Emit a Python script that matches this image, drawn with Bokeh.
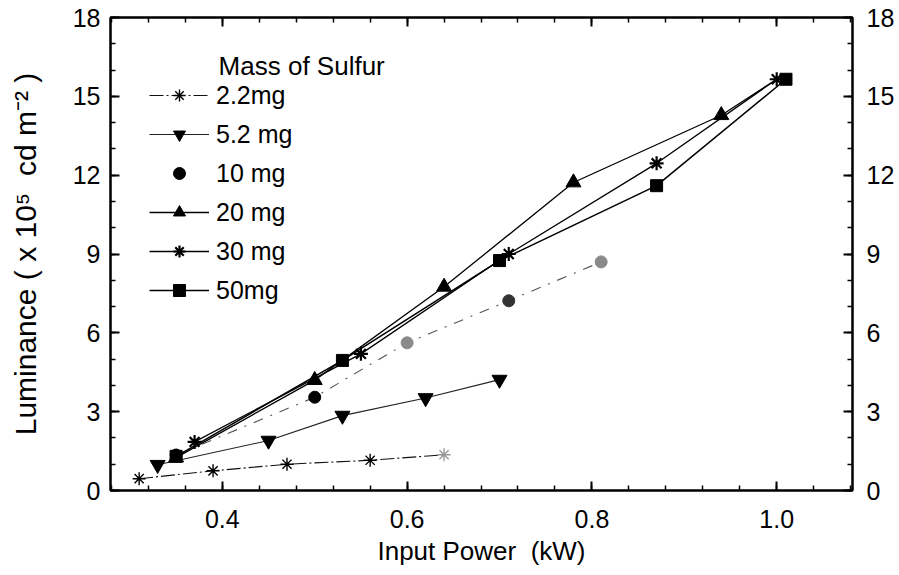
from bokeh.plotting import figure
from bokeh.models import (LinearAxis, SingleIntervalTicker, NumeralTickFormatter,
                          CustomJSTickFormatter, Legend, LegendItem, Label,
                          ColumnDataSource, Range1d)
from bokeh.embed import file_html
from bokeh.resources import INLINE

FONT = "Liberation Sans"

# ---- data ----
x_22 = [0.31, 0.39, 0.47, 0.56, 0.64]
y_22 = [0.45, 0.75, 1.0, 1.15, 1.36]

x_52 = [0.33, 0.45, 0.53, 0.62, 0.70]
y_52 = [0.98, 1.9, 2.85, 3.52, 4.22]

x_10 = [0.35, 0.50, 0.60, 0.71, 0.81]
y_10 = [1.35, 3.55, 5.62, 7.22, 8.7]

x_20 = [0.35, 0.50, 0.64, 0.78, 0.94, 1.0]
y_20 = [1.25, 4.2, 7.75, 11.72, 14.28, 15.65]

x_30 = [0.37, 0.55, 0.71, 0.87, 1.0]
y_30 = [1.85, 5.2, 9.0, 12.45, 15.65]

x_50 = [0.35, 0.53, 0.70, 0.87, 1.01]
y_50 = [1.3, 4.95, 8.75, 11.6, 15.65]

labels = ["2.2mg", "5.2 mg", "10 mg", "20 mg", "30 mg", "50mg"]
legend_title = "Mass of Sulfur"
x_title = "Input Power\u00a0\u00a0(kW)"
y_title = "Luminance ( x 10\u2075\u00a0\u00a0cd m\u207b\u00b2 )"

# per-point marker shading (faded scan points)
c_22 = ["black", "black", "black", "black", "#9a9a9a"]
c_10 = ["black", "black", "#8a8a8a", "#333333", "#8a8a8a"]

p = figure(width=897, height=573, output_backend="svg", toolbar_location=None,
           x_range=Range1d(0.279, 1.082), y_range=Range1d(0, 18),
           min_border_left=110, min_border_right=44, min_border_top=17,
           min_border_bottom=83)
p.xgrid.visible = False
p.ygrid.visible = False
p.outline_line_color = "black"
p.outline_line_width = 2
p.background_fill_color = "white"
p.border_fill_color = "white"


def style_axis(ax):
    ax.axis_line_width = 2
    ax.axis_line_color = "black"
    ax.major_tick_in = 9
    ax.major_tick_out = 0
    ax.minor_tick_in = 5
    ax.minor_tick_out = 0
    ax.major_tick_line_width = 2
    ax.minor_tick_line_width = 1.5
    ax.major_tick_line_color = "black"
    ax.minor_tick_line_color = "black"
    ax.major_label_text_font = FONT
    ax.major_label_text_font_size = "25px"
    ax.major_label_text_color = "black"
    ax.axis_label_text_font = FONT
    ax.axis_label_text_font_style = "normal"
    ax.axis_label_text_color = "black"


xt = SingleIntervalTicker(interval=0.2, num_minor_ticks=5)
yt = SingleIntervalTicker(interval=3, num_minor_ticks=3)

xa = p.xaxis[0]
xa.ticker = xt
xa.formatter = NumeralTickFormatter(format="0.0")
style_axis(xa)
xa.major_label_standoff = 19
xa.axis_label = x_title
xa.axis_label_text_font_size = "26px"
xa.axis_label_standoff = 5

ya = p.yaxis[0]
ya.ticker = yt
style_axis(ya)
ya.major_label_standoff = 10
ya.axis_label = y_title
ya.axis_label_text_font_size = "30px"
ya.axis_label_standoff = 28

top = LinearAxis(ticker=SingleIntervalTicker(interval=0.2, num_minor_ticks=5),
                 formatter=CustomJSTickFormatter(code="return ''"))
style_axis(top)
top.major_label_standoff = 0
p.add_layout(top, "above")

right = LinearAxis(ticker=SingleIntervalTicker(interval=3, num_minor_ticks=3))
style_axis(right)
right.major_label_standoff = 14
p.add_layout(right, "right")

# ---- series ----
s22 = ColumnDataSource(dict(x=x_22, y=y_22, c=c_22))
s10 = ColumnDataSource(dict(x=x_10, y=y_10, c=c_10))

l22 = p.line(x_22, y_22, line_color="#111111", line_width=1.1, line_dash="14 3 2 3")
m22 = p.scatter("x", "y", source=s22, marker="asterisk", size=13,
                line_color="c", line_width=1.4)

l52 = p.line(x_52, y_52, line_color="#222222", line_width=1.1)
m52 = p.scatter(x_52, y_52, marker="inverted_triangle", size=15,
                fill_color="black", line_color="black")

l10 = p.line(x_10, y_10, line_color="#555555", line_width=1.1, line_dash="10 8 2 8")
m10 = p.scatter("x", "y", source=s10, marker="circle", size=12,
                fill_color="c", line_color="c")

l20 = p.line(x_20, y_20, line_color="black", line_width=1.3)
m20 = p.scatter(x_20[:-1], y_20[:-1], marker="triangle", size=15,
                fill_color="black", line_color="black")

l30 = p.line(x_30, y_30, line_color="black", line_width=1.3)
m30 = p.scatter(x_30, y_30, marker="asterisk", size=14,
                line_color="black", line_width=2.2)

l50 = p.line(x_50, y_50, line_color="black", line_width=1.5)
m50 = p.scatter(x_50, y_50, marker="square", size=12,
                fill_color="black", line_color="black")

items = [
    LegendItem(label=labels[0], renderers=[l22, m22]),
    LegendItem(label=labels[1], renderers=[l52, m52]),
    LegendItem(label=labels[2], renderers=[m10]),
    LegendItem(label=labels[3], renderers=[l20, m20]),
    LegendItem(label=labels[4], renderers=[l30, m30]),
    LegendItem(label=labels[5], renderers=[l50, m50]),
]
legend = Legend(items=items, location=(39, 185), glyph_width=60, glyph_height=30,
                label_height=30, spacing=9, label_standoff=7, padding=0, margin=0,
                border_line_color=None, background_fill_alpha=0,
                label_text_font=FONT, label_text_font_size="25px",
                label_text_color="black")
p.add_layout(legend)

p.add_layout(Label(x=0.396, y=16.17, text=legend_title, text_baseline="middle",
                   text_font=FONT, text_font_size="26px", text_color="black"))

open("out.html", "w").write(file_html(p, INLINE))
